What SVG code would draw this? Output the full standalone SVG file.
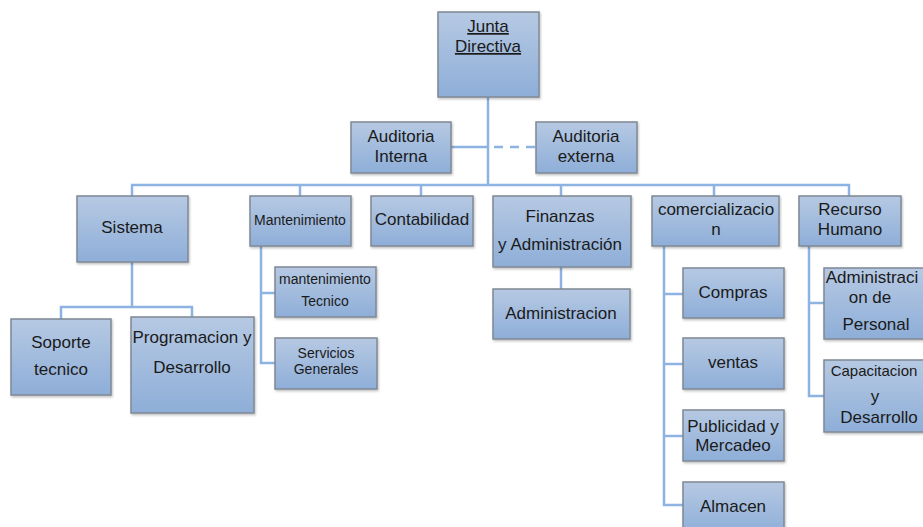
<svg xmlns="http://www.w3.org/2000/svg" width="923" height="527" viewBox="0 0 923 527">
<defs>
<linearGradient id="g" x1="0" y1="0" x2="0" y2="1">
<stop offset="0" stop-color="#b6c9e3"/>
<stop offset="1" stop-color="#8eaed8"/>
</linearGradient>
<filter id="sh" x="-10%" y="-10%" width="120%" height="130%">
<feDropShadow dx="1" dy="1.5" stdDeviation="1" flood-color="#000" flood-opacity="0.25"/>
</filter>
</defs>
<style>
rect{fill:url(#g);stroke:#7f8894;stroke-width:1.5;filter:url(#sh)}
text{font-family:"Liberation Sans",Arial,sans-serif;font-size:17px;fill:#1a1a1a;text-anchor:middle}
.s{font-size:14px}
.m{font-size:15px}
.c line,.c polyline{stroke:#8db3e2;stroke-width:2.5;fill:none}
.d{stroke-dasharray:9,7}
</style>
<g class="c" id="connectors">
<line x1="488" y1="97" x2="488" y2="185"/>
<line x1="451" y1="147" x2="488" y2="147"/>
<line class="d" x1="494" y1="147" x2="536" y2="147"/>
<line x1="131" y1="185" x2="850" y2="185"/>
<line x1="132" y1="185" x2="132" y2="196"/>
<line x1="300" y1="185" x2="300" y2="196"/>
<line x1="421" y1="185" x2="421" y2="196"/>
<line x1="561" y1="185" x2="561" y2="196"/>
<line x1="714" y1="185" x2="714" y2="196"/>
<line x1="849" y1="184" x2="849" y2="196"/>
<line x1="132" y1="262" x2="132" y2="307"/>
<polyline points="61,319 61,307 192,307 192,317"/>
<polyline points="261,246 261,363 275,363"/>
<line x1="261" y1="293" x2="275" y2="293"/>
<line x1="561" y1="267" x2="561" y2="289"/>
<polyline points="664,246 664,505 683,505"/>
<line x1="664" y1="294" x2="683" y2="294"/>
<line x1="664" y1="364" x2="683" y2="364"/>
<line x1="664" y1="436" x2="683" y2="436"/>
<polyline points="809,246 809,396 824,396"/>
<line x1="809" y1="303" x2="824" y2="303"/>
</g>
<g id="junta">
<rect x="438" y="12" width="101" height="85"/>
<text x="488" y="32" text-decoration="underline">Junta</text>
<text x="488" y="52" text-decoration="underline">Directiva</text>
</g>
<g id="aud-interna">
<rect x="351" y="122" width="100" height="51"/>
<text x="401" y="142">Auditoria</text>
<text x="401" y="162">Interna</text>
</g>
<g id="aud-externa">
<rect x="536" y="122" width="101" height="51"/>
<text x="586" y="142">Auditoria</text>
<text x="586" y="162">externa</text>
</g>
<g id="sistema">
<rect x="77" y="196" width="111" height="66"/>
<text x="132" y="233">Sistema</text>
</g>
<g id="soporte">
<rect x="11" y="319" width="100" height="76"/>
<text x="61" y="348">Soporte</text>
<text x="61" y="375">tecnico</text>
</g>
<g id="programacion">
<rect x="131" y="317" width="123" height="96"/>
<text x="192" y="343">Programacion y</text>
<text x="192" y="373">Desarrollo</text>
</g>
<g id="mantenimiento">
<rect x="250" y="196" width="101" height="50"/>
<text class="s" x="300" y="225">Mantenimiento</text>
</g>
<g id="mant-tecnico">
<rect x="275" y="267" width="101" height="50"/>
<text class="s" x="325" y="284">mantenimiento</text>
<text class="s" x="325" y="306">Tecnico</text>
</g>
<g id="servicios">
<rect x="275" y="338" width="102" height="51"/>
<text class="s" x="326" y="358">Servicios</text>
<text class="s" x="326" y="374">Generales</text>
</g>
<g id="contabilidad">
<rect x="371" y="196" width="102" height="50"/>
<text x="422" y="225">Contabilidad</text>
</g>
<g id="finanzas">
<rect x="493" y="196" width="138" height="71"/>
<text x="560" y="222">Finanzas</text>
<text x="560" y="250">y Administración</text>
</g>
<g id="administracion">
<rect x="493" y="289" width="137" height="50"/>
<text x="561" y="319">Administracion</text>
</g>
<g id="comercializacion">
<rect x="652" y="196" width="127" height="50"/>
<text x="716" y="215">comercializacio</text>
<text x="716" y="235">n</text>
</g>
<g id="compras">
<rect x="683" y="268" width="101" height="50"/>
<text x="733" y="298">Compras</text>
</g>
<g id="ventas">
<rect x="683" y="338" width="101" height="51"/>
<text x="733" y="368">ventas</text>
</g>
<g id="publicidad">
<rect x="683" y="410" width="101" height="51"/>
<text x="733" y="432">Publicidad y</text>
<text x="733" y="451">Mercadeo</text>
</g>
<g id="almacen">
<rect x="683" y="482" width="101" height="52"/>
<text x="733" y="512">Almacen</text>
</g>
<g id="recurso">
<rect x="799" y="196" width="102" height="50"/>
<text x="850" y="215">Recurso</text>
<text x="850" y="235">Humano</text>
</g>
<g id="adm-personal">
<rect x="824" y="268" width="101" height="71"/>
<text x="872" y="283">Administraci</text>
<text x="870" y="303">on de</text>
<text x="876" y="330">Personal</text>
</g>
<g id="capacitacion">
<rect x="824" y="360" width="101" height="72"/>
<text class="m" x="874" y="376">Capacitacion</text>
<text x="875" y="402">y</text>
<text x="879" y="423">Desarrollo</text>
</g>
</svg>
